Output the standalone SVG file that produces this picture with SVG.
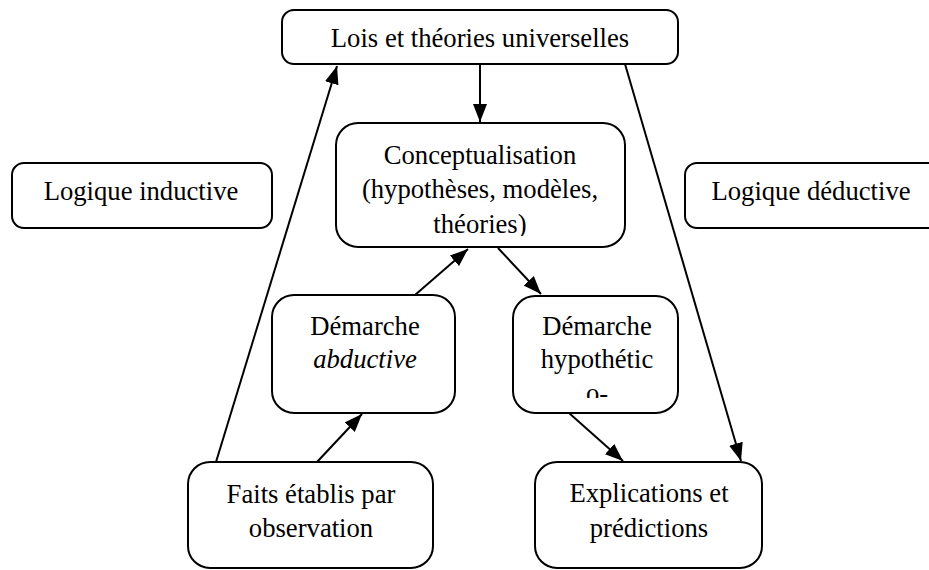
<svg xmlns="http://www.w3.org/2000/svg" width="929" height="570" viewBox="0 0 929 570">
  <style>
    .box { fill: #ffffff; stroke: #000000; stroke-width: 2; }
    .lbl { font-family: "Liberation Serif", "Times New Roman", serif; font-size: 26.67px; fill: #000000; text-anchor: middle; }
    .it { font-style: italic; }
    .edge { fill: none; stroke: #000000; stroke-width: 2; marker-end: url(#arrow); }
  </style>
  <defs>
    <marker id="arrow" viewBox="0 0 18 14" refX="18" refY="7" markerWidth="18" markerHeight="14" markerUnits="userSpaceOnUse" orient="auto">
      <path d="M0,0 L18,7 L0,14 z" fill="#000000"/>
    </marker>
    <!-- text frames narrower than their boxes: overflowing lines are cut -->
    <clipPath id="clipConcept"><rect x="336" y="124" width="289" height="112"/></clipPath>
    <clipPath id="clipHypo"><rect x="514" y="297" width="163" height="101"/></clipPath>
  </defs>

  <g id="connectors">
    <line class="edge" x1="216" y1="462" x2="337" y2="66"/>
    <line class="edge" x1="480" y1="64" x2="480" y2="122"/>
    <line class="edge" x1="625" y1="64" x2="741" y2="461"/>
    <line class="edge" x1="415" y1="295" x2="468" y2="249"/>
    <line class="edge" x1="498" y1="248" x2="541" y2="294"/>
    <line class="edge" x1="317" y1="462" x2="362" y2="414"/>
    <line class="edge" x1="569" y1="413" x2="623" y2="461"/>
  </g>

  <g id="lois">
    <rect class="box" x="282" y="10" width="396" height="54" rx="12"/>
    <text class="lbl" x="480" y="47">Lois et théories universelles</text>
  </g>

  <g id="conceptualisation">
    <rect class="box" x="336" y="123" width="289" height="124" rx="22"/>
    <g clip-path="url(#clipConcept)">
      <text class="lbl" x="480" y="164">Conceptualisation</text>
      <text class="lbl" x="480" y="198">(hypothèses, modèles,</text>
      <text class="lbl" x="480" y="233">théories)</text>
    </g>
  </g>

  <g id="logique-inductive">
    <rect class="box" x="12" y="163" width="260" height="65" rx="12"/>
    <text class="lbl" x="141" y="200">Logique inductive</text>
  </g>

  <g id="logique-deductive">
    <rect class="box" x="685" y="163" width="260" height="65" rx="12"/>
    <text class="lbl" x="811" y="200">Logique déductive</text>
  </g>

  <g id="abductive">
    <rect class="box" x="272" y="295" width="183" height="118" rx="22"/>
    <text class="lbl" x="365" y="335">Démarche</text>
    <text class="lbl it" x="365" y="368">abductive</text>
  </g>

  <g id="hypothetico">
    <rect class="box" x="513" y="296" width="165" height="117" rx="22"/>
    <g clip-path="url(#clipHypo)">
      <text class="lbl" x="597" y="335">Démarche</text>
      <text class="lbl" x="597" y="368">hypothétic</text>
      <text class="lbl" x="597" y="402">o-</text>
    </g>
  </g>

  <g id="faits">
    <rect class="box" x="188" y="462" width="245" height="106" rx="22"/>
    <text class="lbl" x="311" y="503">Faits établis par</text>
    <text class="lbl" x="311" y="537">observation</text>
  </g>

  <g id="explications">
    <rect class="box" x="535" y="462" width="227" height="106" rx="22"/>
    <text class="lbl" x="649" y="502">Explications et</text>
    <text class="lbl" x="649" y="537">prédictions</text>
  </g>
</svg>
